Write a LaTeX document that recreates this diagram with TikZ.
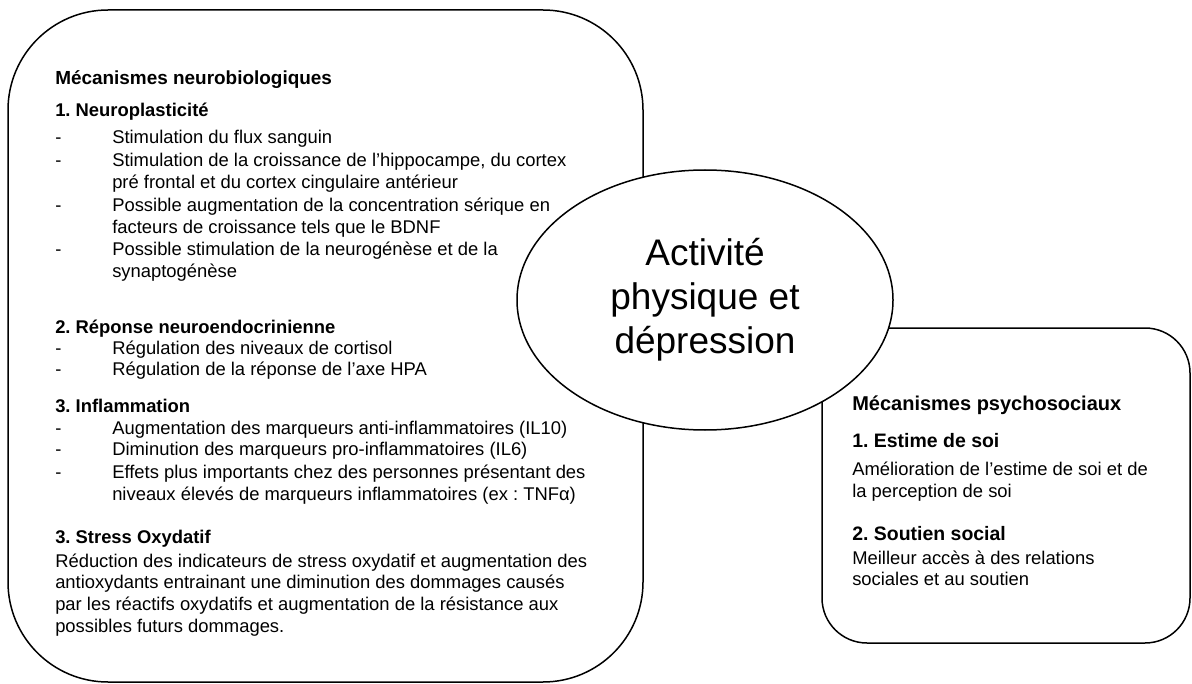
\documentclass[tikz,border=0pt]{standalone}
\usepackage{fontspec}
\setmainfont{Liberation Sans}
\usetikzlibrary{shapes.geometric}
\frenchspacing
\begin{document}
\begin{tikzpicture}[x=0.75pt,y=-0.75pt,
  outline/.style={draw=black,line width=1.125pt},
  txt/.style={anchor=base west,inner sep=0pt,font=\frenchspacing\fontsize{13.8}{16}\selectfont},
  hbig/.style={anchor=base west,inner sep=0pt,font=\frenchspacing\fontsize{14.2}{16}\selectfont\bfseries},
  hsmall/.style={anchor=base west,inner sep=0pt,font=\frenchspacing\fontsize{13.8}{16}\selectfont\bfseries},
  rhead/.style={anchor=base west,inner sep=0pt,font=\frenchspacing\fontsize{15}{17}\selectfont\bfseries},
  rsub/.style={anchor=base west,inner sep=0pt,font=\frenchspacing\fontsize{14.6}{17}\selectfont\bfseries},
  rtxt/.style={anchor=base west,inner sep=0pt,font=\frenchspacing\fontsize{13.8}{16}\selectfont},
  centre/.style={ellipse,outline,fill=white,inner sep=0pt,minimum width=282pt,minimum height=195pt,
    align=center,font=\fontsize{27.75}{33}\selectfont}
]
\useasboundingbox (0,0) rectangle (1192,684);

% boxes
\draw[outline,rounded corners=75pt] (8,10) rectangle (643,682);
\draw[outline,rounded corners=33.75pt] (822,328) rectangle (1190,643);

% centre ellipse
\node[centre] (c) at (705,300) {Activité\\physique et\\dépression};

% left box text
\def\dx{55}
\def\bx{112}
\node[hbig] (t0) at (\dx,85) {Mécanismes neurobiologiques};
\node[hsmall] (t1) at (\dx,117) {1. Neuroplasticité};
\node[txt] (d1) at (\dx,144) {-};
\node[txt] (a1) at (\bx,144) {Stimulation du flux sanguin};
\node[txt] (d2) at (\dx,167) {-};
\node[txt] (a2) at (\bx,167) {Stimulation de la croissance de l’hippocampe, du cortex};
\node[txt] (a2b) at (\bx,189) {pré frontal et du cortex cingulaire antérieur};
\node[txt] (d3) at (\dx,212) {-};
\node[txt] (a3) at (\bx,212) {Possible augmentation de la concentration sérique en};
\node[txt] (a3b) at (\bx,234) {facteurs de croissance tels que le BDNF};
\node[txt] (d4) at (\dx,256) {-};
\node[txt] (a4) at (\bx,256) {Possible stimulation de la neurogénèse et de la};
\node[txt] (a4b) at (\bx,278) {synaptogénèse};

\node[hsmall] (t2) at (\dx,333) {2. Réponse neuroendocrinienne};
\node[txt] (d5) at (\dx,354) {-};
\node[txt] (b1) at (\bx,354) {Régulation des niveaux de cortisol};
\node[txt] (d6) at (\dx,375) {-};
\node[txt] (b2) at (\bx,375) {Régulation de la réponse de l’axe HPA};

\node[hsmall] (t3) at (\dx,412) {3. Inflammation};
\node[txt] (d7) at (\dx,434) {-};
\node[txt] (e1) at (\bx,434) {Augmentation des marqueurs anti-inflammatoires (IL10)};
\node[txt] (d8) at (\dx,455) {-};
\node[txt] (e2) at (\bx,455) {Diminution des marqueurs pro-inflammatoires (IL6)};
\node[txt] (d9) at (\dx,478) {-};
\node[txt] (e3) at (\bx,478) {Effets plus importants chez des personnes présentant des};
\node[txt] (e3b) at (\bx,500) {niveaux élevés de marqueurs inflammatoires (ex : TNFα)};

\node[hsmall] (t4) at (\dx,543) {3. Stress Oxydatif};
\node[txt] (s1) at (\dx,567) {Réduction des indicateurs de stress oxydatif et augmentation des};
\node[txt] (s2) at (\dx,588) {antioxydants entrainant une diminution des dommages causés};
\node[txt] (s3) at (\dx,610) {par les réactifs oxydatifs et augmentation de la résistance aux};
\node[txt] (s4) at (\dx,632) {possibles futurs dommages.};

% right box text
\def\rx{852}
\node[rhead] (r0) at (\rx,410) {Mécanismes psychosociaux};
\node[rsub] (r1) at (\rx,447) {1. Estime de soi};
\node[rtxt] (r1a) at (\rx,475) {Amélioration de l’estime de soi et de};
\node[rtxt] (r1b) at (\rx,497) {la perception de soi};
\node[rsub] (r2) at (\rx,540) {2. Soutien social};
\node[rtxt] (r2a) at (\rx,564) {Meilleur accès à des relations};
\node[rtxt] (r2b) at (\rx,585) {sociales et au soutien};
\end{tikzpicture}
\end{document}
